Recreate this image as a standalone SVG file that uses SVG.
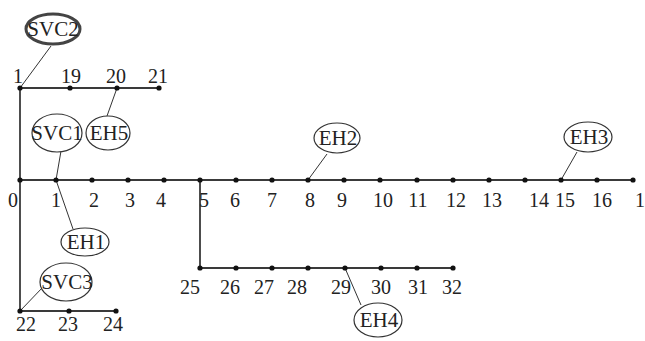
<svg xmlns="http://www.w3.org/2000/svg" width="645" height="341" viewBox="0 0 645 341">
<style>
.bus{stroke:#3a3a3a;stroke-width:1.8;fill:none}
.lead{stroke:#333;stroke-width:1;fill:none}
.dot{fill:#111}
.lbl{font-family:"Liberation Serif",serif;font-size:20px;fill:#222;text-anchor:middle}
.ell{fill:#fff;stroke:#333;stroke-width:1.2}
.etx{font-family:"Liberation Serif",serif;font-size:21px;fill:#222;text-anchor:middle}
</style>
<rect width="645" height="341" fill="#fff"/>
<g id="connectors">
<path class="bus" d="M20,180 H634"/>
<path class="bus" d="M20,88 V311"/>
<path class="bus" d="M20,88 H159"/>
<path class="bus" d="M20,311 H116"/>
<path class="bus" d="M200,180 V268 H453"/>
<path class="lead" d="M20,88 L51,46"/>
<path class="lead" d="M56,180 L61,151"/>
<path class="lead" d="M117,88 L107,116"/>
<path class="lead" d="M56,180 L73,229"/>
<path class="lead" d="M20,311 L43,287"/>
<path class="lead" d="M308,180 L327,154"/>
<path class="lead" d="M561,180 L577,152"/>
<path class="lead" d="M345,268 L361,305"/>
</g>
<g id="nodes">
<g class="dot">
<circle cx="20" cy="180" r="2.6"/><circle cx="56" cy="180" r="2.6"/><circle cx="92" cy="180" r="2.6"/><circle cx="128" cy="180" r="2.6"/><circle cx="164" cy="180" r="2.6"/><circle cx="200" cy="180" r="2.6"/><circle cx="236" cy="180" r="2.6"/><circle cx="272" cy="180" r="2.6"/><circle cx="308" cy="180" r="2.6"/><circle cx="344" cy="180" r="2.6"/><circle cx="380" cy="180" r="2.6"/><circle cx="417" cy="180" r="2.6"/><circle cx="453" cy="180" r="2.6"/><circle cx="489" cy="180" r="2.6"/><circle cx="525" cy="180" r="2.6"/><circle cx="561" cy="180" r="2.6"/><circle cx="597" cy="180" r="2.6"/><circle cx="633" cy="180" r="2.6"/>
<circle cx="20" cy="88" r="2.6"/><circle cx="70" cy="88" r="2.6"/><circle cx="117" cy="88" r="2.6"/><circle cx="159" cy="88" r="2.6"/>
<circle cx="20" cy="311" r="2.6"/><circle cx="69" cy="311" r="2.6"/><circle cx="116" cy="311" r="2.6"/>
<circle cx="200" cy="268" r="2.6"/><circle cx="236" cy="268" r="2.6"/><circle cx="272" cy="268" r="2.6"/><circle cx="308" cy="268" r="2.6"/><circle cx="345" cy="268" r="2.6"/><circle cx="381" cy="268" r="2.6"/><circle cx="417" cy="268" r="2.6"/><circle cx="453" cy="268" r="2.6"/>
</g>
<g class="lbl">
<text x="13" y="207">0</text><text x="56" y="207">1</text><text x="94" y="207">2</text><text x="130" y="207">3</text><text x="161" y="207">4</text><text x="204" y="207">5</text><text x="235" y="207">6</text><text x="272" y="207">7</text><text x="310" y="207">8</text><text x="342" y="207">9</text><text x="383" y="207">10</text><text x="418" y="207">11</text><text x="456" y="207">12</text><text x="492" y="207">13</text><text x="539" y="207">14</text><text x="565" y="207">15</text><text x="602" y="207">16</text><text x="640" y="207">1</text>
<text x="18" y="83">1</text><text x="71" y="83">19</text><text x="116" y="83">20</text><text x="158" y="83">21</text>
<text x="26" y="331">22</text><text x="68" y="331">23</text><text x="113" y="331">24</text>
<text x="190" y="294">25</text><text x="230" y="294">26</text><text x="264" y="294">27</text><text x="297" y="294">28</text><text x="341" y="294">29</text><text x="381" y="294">30</text><text x="418" y="294">31</text><text x="452" y="294">32</text>
</g>
</g>
<g id="SVC2"><ellipse cx="53" cy="29" rx="27" ry="15" fill="#fff" stroke="#444" stroke-width="3"/><text class="etx" x="53" y="36">SVC2</text></g>
<g id="SVC1"><ellipse class="ell" cx="57" cy="133" rx="25" ry="19"/><text class="etx" x="57" y="140">SVC1</text></g>
<g id="EH5"><ellipse class="ell" cx="108" cy="133" rx="22" ry="17"/><text class="etx" x="109" y="140">EH5</text></g>
<g id="EH1"><ellipse class="ell" cx="85" cy="242" rx="24" ry="14"/><text class="etx" x="86" y="249">EH1</text></g>
<g id="SVC3"><ellipse class="ell" cx="66" cy="282" rx="26" ry="19"/><text class="etx" x="67" y="289">SVC3</text></g>
<g id="EH2"><ellipse class="ell" cx="337" cy="138" rx="23" ry="15"/><text class="etx" x="338" y="145">EH2</text></g>
<g id="EH3"><ellipse class="ell" cx="588" cy="137" rx="24" ry="15"/><text class="etx" x="589" y="144">EH3</text></g>
<g id="EH4"><ellipse class="ell" cx="378" cy="320" rx="24" ry="17"/><text class="etx" x="379" y="327">EH4</text></g>
</svg>
